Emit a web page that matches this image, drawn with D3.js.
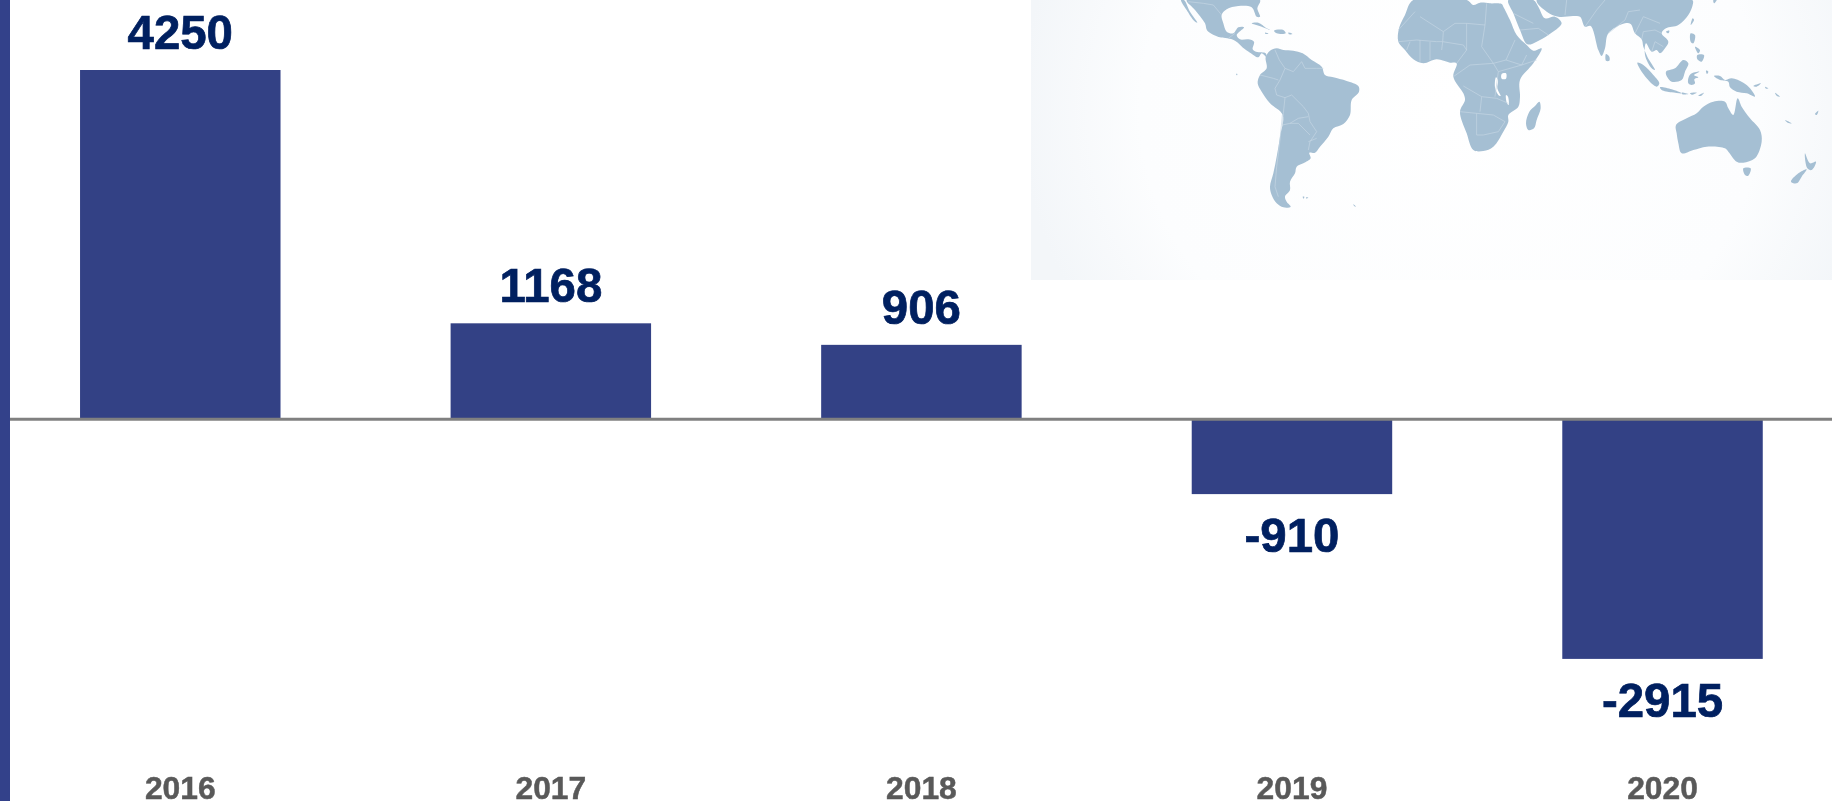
<!DOCTYPE html>
<html>
<head>
<meta charset="utf-8">
<script src="https://cdn.jsdelivr.net/npm/d3@7"></script>
<style>
html,body{margin:0;padding:0;background:#fff;overflow:hidden}
svg{display:block}
text{font-family:"Liberation Sans",Arial,sans-serif;font-weight:700}
</style>
</head>
<body>
<svg id="chart" width="1832" height="801"></svg>
<script>
const years = ["2016","2017","2018","2019","2020"];
const values = [4250,1168,906,-910,-2915];
const barColor = "#334185";
const labelColor = "#002060";
const yearColor = "#595959";
const lineColor = "#808080";
const landColor = "#a5bfd3";
const borderColor = "#c5d6e4";

// Decorative backdrop outlines (crop coordinates).
const landA = [
 [[183,0],[192,0],[210,35],[232,68],[222,62],[200,30]],
 [[200,0],[225,30],[255,70],[262,92],[300,112],[322,115],[345,122],[375,148],[390,158],[415,172],[425,160],[440,172],[437,160],[425,157],[408,155],[398,148],[402,125],[385,118],[360,118],[350,105],[372,82],[355,82],[340,100],[320,95],[310,70],[305,45],[320,28],[355,18],[395,22],[410,50],[420,50],[412,25],[420,0]],
 [[437,172],[450,152],[470,145],[490,150],[520,152],[548,160],[575,180],[605,200],[615,225],[640,232],[680,243],[715,258],[717,275],[695,300],[690,345],[670,372],[640,385],[625,410],[600,440],[585,458],[568,458],[572,475],[550,490],[530,500],[525,520],[510,545],[510,570],[495,590],[500,605],[512,620],[490,622],[470,610],[455,585],[450,560],[460,520],[470,470],[480,410],[488,345],[450,310],[425,275],[413,250],[420,225],[440,205]],
 [[395,70],[415,68],[440,85],[450,90],[425,80]],
 [[462,92],[490,90],[497,100],[470,100]],
 [[505,98],[517,102],[507,103]],
 [[435,98],[445,101],[437,102]],
 [[348,222],[352,222],[351,226]],
 [[548,590],[553,590],[551,596]],
 [[558,592],[565,592],[560,596]],
 [[700,613],[708,620],[703,619]]
];
const bordersA = [
 [[205,5],[250,10],[280,15],[305,45]],
 [[325,115],[345,100]],
 [[465,150],[478,180],[495,205],[520,215],[545,185],[555,205],[590,205],[610,205]],
 [[495,205],[480,240],[465,265],[470,285],[495,293],[515,285],[550,320],[565,340],[570,365],[590,395],[570,425],[565,450]],
 [[495,293],[490,340],[487,375],[510,370],[535,355],[565,350]],
 [[487,345],[480,420],[470,500],[465,560],[475,590]],
 [[510,370],[535,370],[570,405]],
 [[420,225],[460,235],[475,240]],
 [[565,425],[590,415]]
];
const landB = [
 [[490,0],[465,45],[447,85],[445,125],[465,150],[490,178],[520,190],[560,178],[600,188],[620,190],[610,230],[640,280],[645,300],[630,335],[650,400],[670,450],[700,453],[730,440],[760,395],[775,365],[775,345],[805,320],[810,290],[810,240],[850,190],[875,145],[850,152],[830,135],[800,105],[780,60],[760,20],[755,12],[720,10],[690,8],[670,15],[650,0]],
 [[868,305],[872,325],[860,360],[852,385],[835,390],[828,370],[838,335],[855,318]],
 [[775,0],[790,40],[810,90],[832,133],[860,125],[895,105],[935,70],[915,50],[885,55],[865,20],[850,0]]
];
const lakesB = [
 [[755,222],[768,220],[768,236],[755,236]],
 [[738,232],[744,240],[742,265],[752,288],[745,285],[735,262]],
 [[768,285],[774,290],[776,315],[771,310]]
];
const bordersB = [
 [[510,50],[580,95],[578,125],[575,150]],
 [[495,35],[445,90]],
 [[580,95],[615,70],[650,70],[705,75],[710,10]],
 [[650,70],[650,150],[620,190]],
 [[705,75],[695,140],[730,190],[768,180],[795,120]],
 [[445,125],[500,120],[560,125],[578,125],[640,135],[650,150]],
 [[470,150],[480,125]],[[510,120],[510,185]],[[540,125],[540,180]],
 [[610,230],[660,195],[730,190],[745,215],[815,195],[860,180]],
 [[640,258],[695,290],[740,295],[775,310]],
 [[630,335],[680,340],[680,405]],
 [[680,340],[730,345],[765,365],[745,395],[700,405],[680,405]],
 [[695,290],[690,335]],[[745,215],[735,290]],
 [[810,90],[865,85],[895,105]],[[790,40],[850,70]],
 [[768,180],[815,195],[830,165]]
];
const landC = [
 [[-70,0],[-40,35],[-5,50],[40,48],[60,50],[75,80],[92,78],[115,150],[125,168],[135,145],[145,100],[195,70],[212,72],[225,100],[245,118],[250,140],[262,170],[285,210],[275,205],[255,165],[258,130],[275,155],[290,150],[300,160],[315,145],[325,125],[305,100],[318,85],[355,75],[385,45],[398,15],[397,0]],
 [[138,162],[148,170],[148,182],[138,182]],
 [[232,188],[250,195],[280,225],[298,250],[290,260],[260,235]],
 [[300,262],[335,268],[365,280],[335,277],[305,270]],
 [[365,278],[385,282],[367,283]],[[390,280],[410,278],[395,284]],[[415,287],[432,278],[422,288]],
 [[318,215],[345,205],[370,180],[385,190],[375,215],[365,240],[335,245],[322,232]],
 [[385,235],[392,222],[418,215],[402,225],[415,232],[403,238],[405,250],[395,255],[385,250]],
 [[392,100],[405,105],[400,130],[392,125]],
 [[412,165],[432,165],[425,185],[412,178]],
 [[405,140],[420,150],[415,160]],
 [[398,55],[402,60],[392,75]],
 [[462,228],[480,228],[495,240],[515,235],[550,248],[570,265],[585,290],[560,280],[530,275],[510,262],[505,245],[480,240]],
 [[348,375],[380,355],[410,340],[430,320],[460,305],[495,305],[505,325],[520,345],[533,295],[545,320],[570,355],[600,390],[605,425],[585,475],[550,488],[530,485],[505,455],[495,445],[440,440],[400,450],[365,460],[355,430],[350,400]],
 [[550,505],[572,505],[565,527],[555,525]],
 [[735,460],[750,490],[768,485],[755,510],[742,505]],
 [[740,508],[725,530],[710,550],[693,545],[715,520]],
 [[318,95],[328,92],[325,100]],
 [[438,212],[445,215],[441,222]],
 [[580,258],[603,250],[590,260]],[[615,260],[625,265],[618,266]],[[645,278],[660,290],[650,287]],
 [[675,360],[695,370],[683,368]],[[765,342],[775,332],[770,345]],
 [[460,0],[470,0],[462,10]]
];
const bordersC = [
 [[20,0],[15,45]],[[75,80],[110,30],[135,0]],
 [[145,100],[195,60],[205,35],[240,30]],
 [[225,100],[240,70],[250,50],[300,70]],
 [[245,118],[250,95],[285,90],[305,100]],
 [[275,155],[285,125],[310,140]]
];

const svg = d3.select("#chart");

// Backdrop panel
const defs = svg.append("defs");
const grad = defs.append("radialGradient").attr("id","panel")
  .attr("gradientUnits","userSpaceOnUse")
  .attr("cx",1450).attr("cy",110).attr("r",430)
  .attr("gradientTransform","translate(1450 110) scale(1 .9) translate(-1450 -110)");
grad.append("stop").attr("offset","0%").attr("stop-color","#ffffff");
grad.append("stop").attr("offset","72%").attr("stop-color","#fcfdfe");
grad.append("stop").attr("offset","100%").attr("stop-color","#f3f6f9");
defs.append("filter").attr("id","soft").append("feGaussianBlur").attr("stdDeviation",0.5);
svg.append("rect").attr("x",1031).attr("y",0).attr("width",801).attr("height",280).attr("fill","url(#panel)");

const closed = d3.line().curve(d3.curveCatmullRomClosed.alpha(0.5));
const map = svg.append("g").attr("filter","url(#soft)");
function layer(ox, land, lakes, borders){
  const g = map.append("g").attr("transform",`translate(${ox},0) scale(${1/3})`);
  g.selectAll("path.land").data(land).join("path").attr("class","land")
    .attr("d",closed).attr("fill",landColor);
  g.selectAll("path.lake").data(lakes).join("path").attr("class","lake")
    .attr("d",closed).attr("fill","#ffffff");
  g.selectAll("path.border").data(borders).join("path").attr("class","border")
    .attr("d",d3.line()).attr("fill","none").attr("stroke",borderColor).attr("stroke-width",2);
}
layer(1120, landA, [], bordersA);
layer(1250, landB, lakesB, bordersB);
layer(1560, landC, [], bordersC);

// Left accent bar
svg.append("rect").attr("x",0).attr("y",0).attr("width",10).attr("height",801).attr("fill","#33418a");

// Scales
const x = d3.scaleBand().domain(years).range([-5.0,1847.8]).paddingInner(0.459).paddingOuter(0.2295);
const y = d3.scaleLinear().domain([-2915,4250]).range([658.9,70]);

// Bars
svg.append("g").selectAll("rect").data(values).join("rect")
  .attr("x",(d,i)=>x(years[i]))
  .attr("width",x.bandwidth())
  .attr("y",d=>Math.min(y(d),y(0)))
  .attr("height",d=>Math.abs(y(d)-y(0)))
  .attr("fill",barColor);

// Zero line
svg.append("line").attr("x1",10).attr("x2",1832).attr("y1",y(0)).attr("y2",y(0))
  .attr("stroke",lineColor).attr("stroke-width",3);

// Value labels
svg.append("g").selectAll("text").data(values).join("text")
  .attr("x",(d,i)=>x(years[i])+x.bandwidth()/2)
  .attr("y",d=>d>=0 ? y(d)-21 : y(d)+58)
  .attr("text-anchor","middle")
  .attr("font-size",47.4)
  .attr("fill",labelColor)
  .attr("stroke",labelColor)
  .attr("stroke-width",0.7)
  .text(d=>d);

// Year axis
const axis = svg.append("g").attr("transform","translate(0,775)")
  .call(d3.axisBottom(x).tickSize(0).tickPadding(0));
axis.select(".domain").remove();
axis.selectAll("text")
  .attr("y",24).attr("dy",0)
  .attr("font-size",31.8)
  .attr("fill",yearColor)
  .attr("stroke",yearColor)
  .attr("stroke-width",0.5)
  .style("font-family",'"Liberation Sans",Arial,sans-serif')
  .style("font-weight",700);
</script>
</body>
</html>
